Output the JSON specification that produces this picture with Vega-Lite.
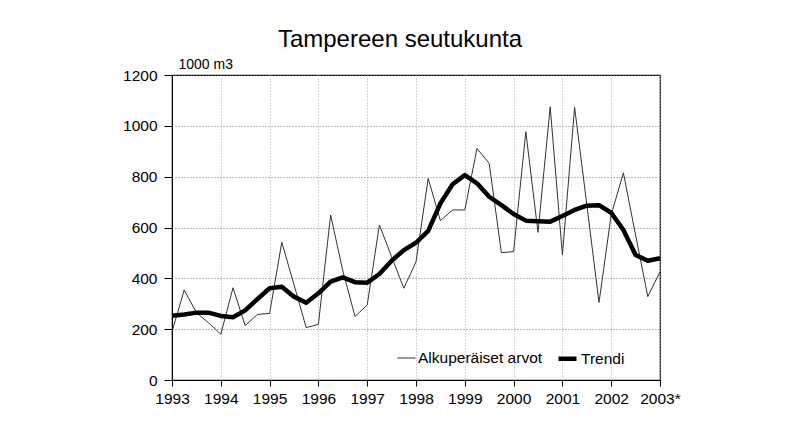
{
  "$schema": "https://vega.github.io/schema/vega-lite/v6.json",
  "autosize": {"type": "none"},
  "width": 488,
  "height": 305,
  "padding": {"left": 172, "top": 75, "right": 148, "bottom": 47},
  "background": "white",
  "title": {
    "text": "Tampereen seutukunta",
    "font": "Liberation Sans, sans-serif",
    "fontSize": 24,
    "fontWeight": "normal",
    "color": "#000",
    "anchor": "middle",
    "frame": "group",
    "dx": -16,
    "offset": 5
  },
  "config": {
    "font": "Liberation Sans, sans-serif",
    "view": {"stroke": "#000", "strokeWidth": 1.2},
    "axis": {
      "labelFont": "Liberation Sans, sans-serif",
      "titleFont": "Liberation Sans, sans-serif",
      "labelColor": "#000",
      "titleColor": "#000",
      "domainColor": "#000",
      "tickColor": "#000",
      "labelFontSize": 15.5,
      "titleFontWeight": "normal"
    },
    "legend": {
      "labelFont": "Liberation Sans, sans-serif",
      "labelFontSize": 15.5,
      "labelColor": "#000"
    }
  },
  "data": {
    "values": [
      {"t": 1993.00, "sarja": "Alkuperäiset arvot", "arvo": 190},
      {"t": 1993.25, "sarja": "Alkuperäiset arvot", "arvo": 354},
      {"t": 1993.50, "sarja": "Alkuperäiset arvot", "arvo": 265},
      {"t": 1993.75, "sarja": "Alkuperäiset arvot", "arvo": 225},
      {"t": 1994.00, "sarja": "Alkuperäiset arvot", "arvo": 180},
      {"t": 1994.25, "sarja": "Alkuperäiset arvot", "arvo": 363},
      {"t": 1994.50, "sarja": "Alkuperäiset arvot", "arvo": 214},
      {"t": 1994.75, "sarja": "Alkuperäiset arvot", "arvo": 258},
      {"t": 1995.00, "sarja": "Alkuperäiset arvot", "arvo": 262},
      {"t": 1995.25, "sarja": "Alkuperäiset arvot", "arvo": 542},
      {"t": 1995.50, "sarja": "Alkuperäiset arvot", "arvo": 375},
      {"t": 1995.75, "sarja": "Alkuperäiset arvot", "arvo": 206},
      {"t": 1996.00, "sarja": "Alkuperäiset arvot", "arvo": 219},
      {"t": 1996.25, "sarja": "Alkuperäiset arvot", "arvo": 649},
      {"t": 1996.50, "sarja": "Alkuperäiset arvot", "arvo": 430},
      {"t": 1996.75, "sarja": "Alkuperäiset arvot", "arvo": 250},
      {"t": 1997.00, "sarja": "Alkuperäiset arvot", "arvo": 295},
      {"t": 1997.25, "sarja": "Alkuperäiset arvot", "arvo": 610},
      {"t": 1997.50, "sarja": "Alkuperäiset arvot", "arvo": 485},
      {"t": 1997.75, "sarja": "Alkuperäiset arvot", "arvo": 361},
      {"t": 1998.00, "sarja": "Alkuperäiset arvot", "arvo": 465},
      {"t": 1998.25, "sarja": "Alkuperäiset arvot", "arvo": 793},
      {"t": 1998.50, "sarja": "Alkuperäiset arvot", "arvo": 627},
      {"t": 1998.75, "sarja": "Alkuperäiset arvot", "arvo": 669},
      {"t": 1999.00, "sarja": "Alkuperäiset arvot", "arvo": 669},
      {"t": 1999.25, "sarja": "Alkuperäiset arvot", "arvo": 911},
      {"t": 1999.50, "sarja": "Alkuperäiset arvot", "arvo": 852},
      {"t": 1999.75, "sarja": "Alkuperäiset arvot", "arvo": 501},
      {"t": 2000.00, "sarja": "Alkuperäiset arvot", "arvo": 505},
      {"t": 2000.25, "sarja": "Alkuperäiset arvot", "arvo": 977},
      {"t": 2000.50, "sarja": "Alkuperäiset arvot", "arvo": 581},
      {"t": 2000.75, "sarja": "Alkuperäiset arvot", "arvo": 1075},
      {"t": 2001.00, "sarja": "Alkuperäiset arvot", "arvo": 492},
      {"t": 2001.25, "sarja": "Alkuperäiset arvot", "arvo": 1073},
      {"t": 2001.50, "sarja": "Alkuperäiset arvot", "arvo": 690},
      {"t": 2001.75, "sarja": "Alkuperäiset arvot", "arvo": 305},
      {"t": 2002.00, "sarja": "Alkuperäiset arvot", "arvo": 650},
      {"t": 2002.25, "sarja": "Alkuperäiset arvot", "arvo": 815},
      {"t": 2002.50, "sarja": "Alkuperäiset arvot", "arvo": 570},
      {"t": 2002.75, "sarja": "Alkuperäiset arvot", "arvo": 328},
      {"t": 2003.00, "sarja": "Alkuperäiset arvot", "arvo": 426},
      {"t": 1993.00, "sarja": "Trendi", "arvo": 253},
      {"t": 1993.25, "sarja": "Trendi", "arvo": 258},
      {"t": 1993.50, "sarja": "Trendi", "arvo": 265},
      {"t": 1993.75, "sarja": "Trendi", "arvo": 265},
      {"t": 1994.00, "sarja": "Trendi", "arvo": 252},
      {"t": 1994.25, "sarja": "Trendi", "arvo": 247},
      {"t": 1994.50, "sarja": "Trendi", "arvo": 274},
      {"t": 1994.75, "sarja": "Trendi", "arvo": 318},
      {"t": 1995.00, "sarja": "Trendi", "arvo": 361},
      {"t": 1995.25, "sarja": "Trendi", "arvo": 367},
      {"t": 1995.50, "sarja": "Trendi", "arvo": 328},
      {"t": 1995.75, "sarja": "Trendi", "arvo": 304},
      {"t": 1996.00, "sarja": "Trendi", "arvo": 341},
      {"t": 1996.25, "sarja": "Trendi", "arvo": 387},
      {"t": 1996.50, "sarja": "Trendi", "arvo": 404},
      {"t": 1996.75, "sarja": "Trendi", "arvo": 385},
      {"t": 1997.00, "sarja": "Trendi", "arvo": 383},
      {"t": 1997.25, "sarja": "Trendi", "arvo": 417},
      {"t": 1997.50, "sarja": "Trendi", "arvo": 469},
      {"t": 1997.75, "sarja": "Trendi", "arvo": 511},
      {"t": 1998.00, "sarja": "Trendi", "arvo": 540},
      {"t": 1998.25, "sarja": "Trendi", "arvo": 587},
      {"t": 1998.50, "sarja": "Trendi", "arvo": 695},
      {"t": 1998.75, "sarja": "Trendi", "arvo": 770},
      {"t": 1999.00, "sarja": "Trendi", "arvo": 806},
      {"t": 1999.25, "sarja": "Trendi", "arvo": 774},
      {"t": 1999.50, "sarja": "Trendi", "arvo": 721},
      {"t": 1999.75, "sarja": "Trendi", "arvo": 688},
      {"t": 2000.00, "sarja": "Trendi", "arvo": 653},
      {"t": 2000.25, "sarja": "Trendi", "arvo": 627},
      {"t": 2000.50, "sarja": "Trendi", "arvo": 625},
      {"t": 2000.75, "sarja": "Trendi", "arvo": 623},
      {"t": 2001.00, "sarja": "Trendi", "arvo": 645},
      {"t": 2001.25, "sarja": "Trendi", "arvo": 669},
      {"t": 2001.50, "sarja": "Trendi", "arvo": 686},
      {"t": 2001.75, "sarja": "Trendi", "arvo": 688},
      {"t": 2002.00, "sarja": "Trendi", "arvo": 658},
      {"t": 2002.25, "sarja": "Trendi", "arvo": 590},
      {"t": 2002.50, "sarja": "Trendi", "arvo": 492},
      {"t": 2002.75, "sarja": "Trendi", "arvo": 469},
      {"t": 2003.00, "sarja": "Trendi", "arvo": 479}
    ]
  },
  "mark": {"type": "line", "strokeJoin": "round", "strokeCap": "butt"},
  "encoding": {
    "x": {
      "field": "t",
      "type": "quantitative",
      "scale": {"domain": [1993, 2003], "nice": false, "zero": false},
      "axis": {
        "title": null,
        "values": [1993, 1994, 1995, 1996, 1997, 1998, 1999, 2000, 2001, 2002, 2003],
        "format": "d",
        "labelExpr": "datum.value == 2003 ? '2003*' : datum.label",
        "tickSize": 6,
        "labelPadding": 5,
        "grid": true,
        "gridColor": "#a8a8a8",
        "gridDash": [1, 2],
        "gridWidth": 1,
        "labelFlush": false,
        "labelOverlap": false
      }
    },
    "y": {
      "field": "arvo",
      "type": "quantitative",
      "scale": {"domain": [0, 1200], "nice": false},
      "axis": {
        "title": "1000 m3",
        "titleAngle": 0,
        "titleAlign": "left",
        "titleBaseline": "alphabetic",
        "titleFontSize": 14,
        "titleX": 6,
        "titleY": -7,
        "values": [0, 200, 400, 600, 800, 1000, 1200],
        "format": "d",
        "tickSize": 8,
        "labelPadding": 7,
        "grid": true,
        "gridColor": "#777",
        "gridDash": [1, 2],
        "gridWidth": 1
      }
    },
    "color": {
      "field": "sarja",
      "type": "nominal",
      "scale": {"domain": ["Alkuperäiset arvot", "Trendi"], "range": ["#333333", "#000000"]},
      "legend": {
        "title": null,
        "orient": "none",
        "direction": "horizontal",
        "legendX": 225,
        "legendY": 272,
        "symbolType": "stroke",
        "symbolSize": 324,
        "labelOffset": 2,
        "columnPadding": 6
      }
    },
    "strokeWidth": {
      "field": "sarja",
      "type": "nominal",
      "scale": {"domain": ["Alkuperäiset arvot", "Trendi"], "range": [1, 4.5]},
      "legend": {
        "title": null,
        "orient": "none",
        "direction": "horizontal",
        "legendX": 225,
        "legendY": 272,
        "symbolType": "stroke",
        "symbolSize": 324,
        "labelOffset": 2,
        "columnPadding": 6
      }
    }
  }
}
